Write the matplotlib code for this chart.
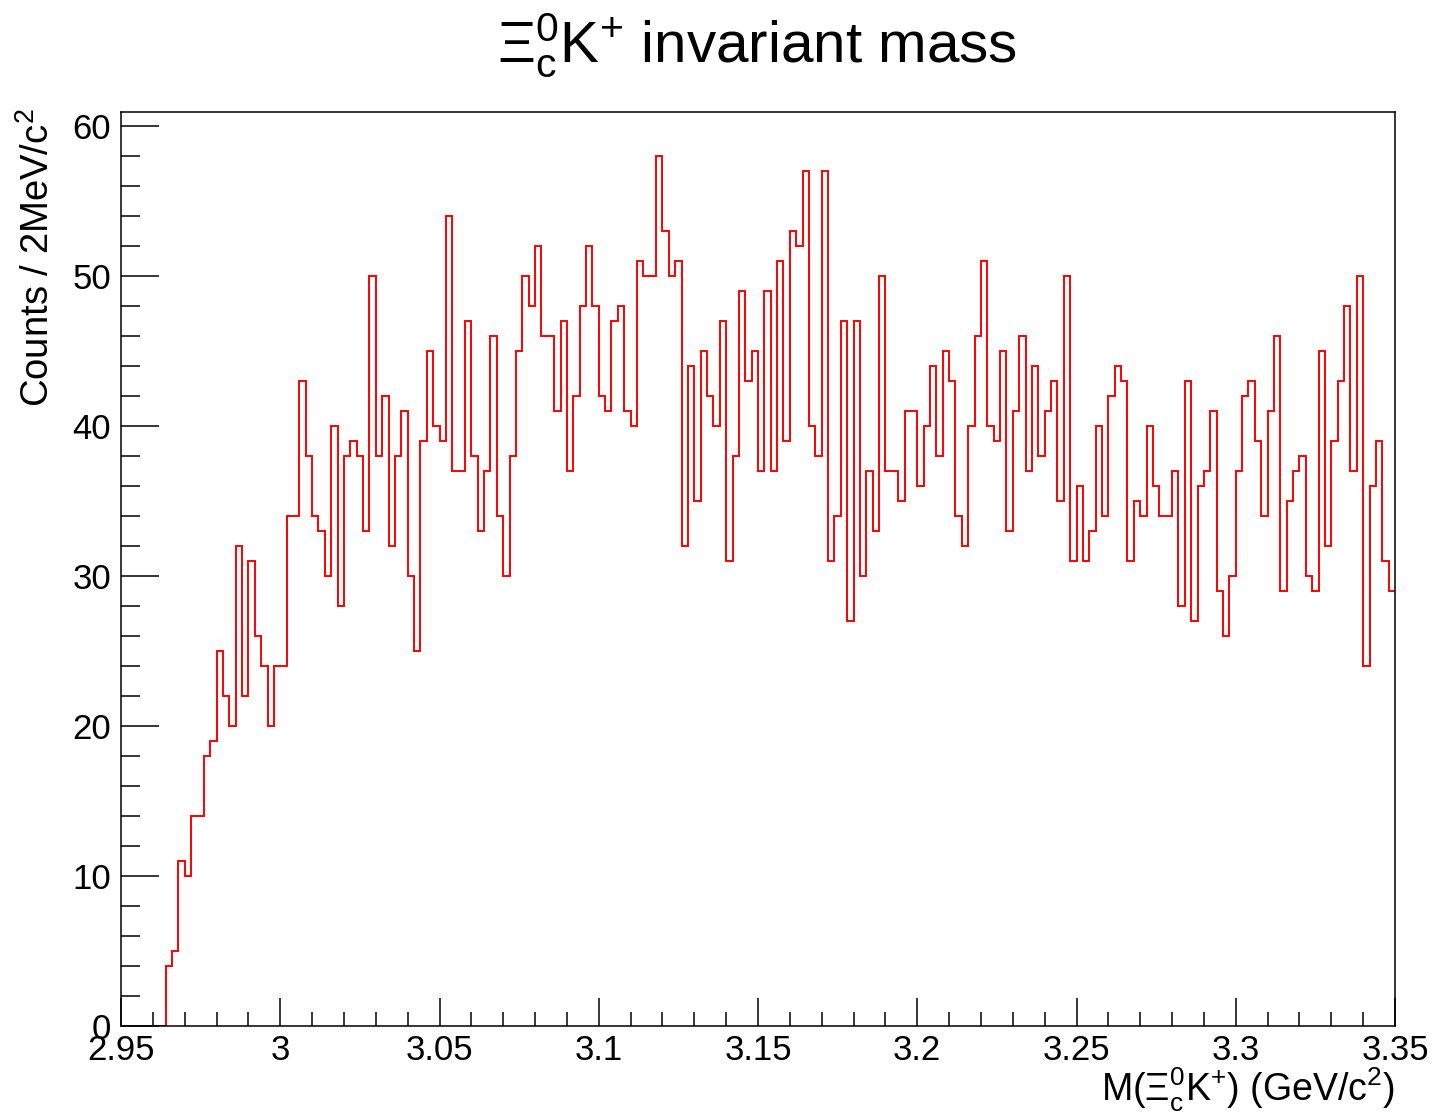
import matplotlib
matplotlib.use("Agg")
import matplotlib.pyplot as plt
import numpy as np
from matplotlib.ticker import MultipleLocator, FuncFormatter

plt.rcParams['font.family'] = ['Liberation Sans', 'DejaVu Sans']
plt.rcParams['mathtext.fontset'] = 'custom'
plt.rcParams['mathtext.rm'] = 'Liberation Sans'
plt.rcParams['mathtext.it'] = 'Liberation Sans:italic'
plt.rcParams['mathtext.bf'] = 'Liberation Sans:bold'

# Histogram binning: 2 MeV bins from 2.95 to 3.35 GeV
x_lo = 2.95
x_hi = 3.35
n_bins = 200

# Bin contents
counts = [
    0, 0, 0, 0, 0, 0, 0, 4, 5, 11,
    10, 14, 14, 18, 19, 25, 22, 20, 32, 22,
    31, 26, 24, 20, 24, 24, 34, 34, 43, 38,
    34, 33, 30, 40, 28, 38, 39, 38, 33, 50,
    38, 42, 32, 38, 41, 30, 25, 39, 45, 40,
    39, 54, 37, 37, 47, 38, 33, 37, 46, 34,
    30, 38, 45, 50, 48, 52, 46, 46, 41, 47,
    37, 42, 48, 52, 48, 42, 41, 47, 48, 41,
    40, 51, 50, 50, 58, 53, 50, 51, 32, 44,
    35, 45, 42, 40, 47, 31, 38, 49, 43, 45,
    37, 49, 37, 51, 39, 53, 52, 57, 40, 38,
    57, 31, 34, 47, 27, 47, 30, 37, 33, 50,
    37, 37, 35, 41, 41, 36, 40, 44, 38, 45,
    43, 34, 32, 40, 46, 51, 40, 39, 45, 33,
    41, 46, 37, 44, 38, 41, 43, 35, 50, 31,
    36, 31, 33, 40, 34, 42, 44, 43, 31, 35,
    34, 40, 36, 34, 34, 37, 28, 43, 27, 36,
    37, 41, 29, 26, 30, 37, 42, 43, 39, 34,
    41, 46, 29, 35, 37, 38, 30, 29, 45, 32,
    39, 43, 48, 37, 50, 24, 36, 39, 31, 29,
]

edges = np.linspace(x_lo, x_hi, n_bins + 1)

fig = plt.figure(figsize=(14.35, 11.14), dpi=100)
ax = fig.add_axes([121 / 1435, 1 - 1026 / 1114, (1395 - 121) / 1435, (1026 - 112) / 1114])

# step outline only (no closing edges down to zero)
ax.stairs(counts, edges, baseline=None, color='#ff0000', lw=1.4)

ax.set_xlim(x_lo, x_hi)
ax.set_ylim(0, 60.9)

ax.xaxis.set_major_locator(MultipleLocator(0.05))
ax.xaxis.set_minor_locator(MultipleLocator(0.01))
ax.yaxis.set_major_locator(MultipleLocator(10))
ax.yaxis.set_minor_locator(MultipleLocator(2))
ax.xaxis.set_major_formatter(FuncFormatter(lambda v, p: f"{v:g}"))
ax.yaxis.set_major_formatter(FuncFormatter(lambda v, p: f"{v:g}"))

ax.tick_params(axis='x', which='major', direction='in', length=20, width=1.1,
               labelsize=25, pad=6, top=False)
ax.tick_params(axis='x', which='minor', direction='in', length=10, width=1.1, top=False)
ax.tick_params(axis='y', which='major', direction='in', length=27, width=1.1,
               labelsize=25, pad=7, right=False)
ax.tick_params(axis='y', which='minor', direction='in', length=13.5, width=1.1, right=False)

for s in ax.spines.values():
    s.set_linewidth(1.1)
    s.set_color('black')

fig.text(757 / 1435, 1 - 45 / 1114, r'$\Xi_{\mathrm{c}}^{0}\mathrm{K}^{+}$ invariant mass',
         ha='center', va='center', fontsize=42)
fig.text(1395 / 1435, 1 - 1090 / 1114,
         r'M($\Xi_{\mathrm{c}}^{0}\mathrm{K}^{+}$) (GeV/c$^{2}$)',
         ha='right', va='center', fontsize=27)
fig.text(38 / 1435, 1 - 108 / 1114, r'Counts / 2MeV/c$^{2}$',
         ha='center', va='top', rotation=90, fontsize=27.5)

fig.savefig('out.png', dpi=100)
